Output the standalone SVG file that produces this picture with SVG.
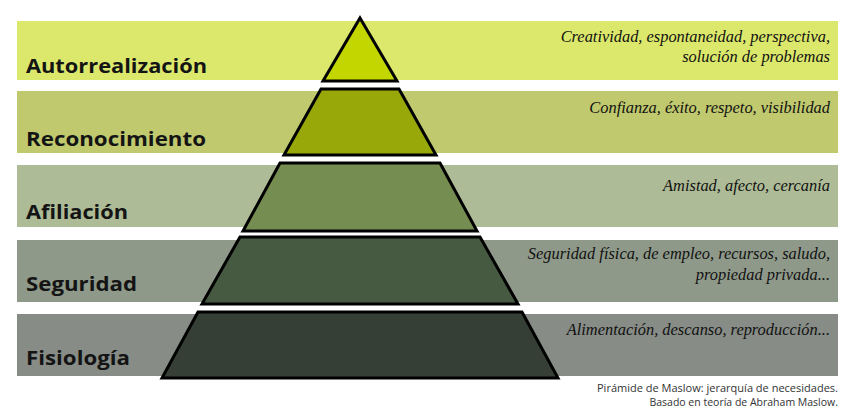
<svg xmlns="http://www.w3.org/2000/svg" width="854" height="418" viewBox="0 0 854 418">
<style>
.lbl{font-family:"Open Sans","DejaVu Sans",sans-serif;font-weight:bold;font-size:19px;fill:#141414}
.desc{font-family:"Liberation Serif","DejaVu Serif",serif;font-style:italic;font-size:16.4px;fill:#111;text-anchor:end}
.note{font-family:"Open Sans","Liberation Sans",sans-serif;font-size:10.5px;fill:#333;text-anchor:end}
.tier{stroke:#000;stroke-width:3;stroke-linejoin:miter}
</style>
<rect width="854" height="418" fill="#fff"/>
<g id="level-autorrealizacion">
<rect x="17" y="21" width="821" height="59" fill="#dce86c"/>
<polygon class="tier" points="360,18 397,81 323,81" fill="#c3d600"/>
<text class="lbl" x="26" y="73" textLength="181" lengthAdjust="spacingAndGlyphs">Autorrealización</text>
<text class="desc" x="830" y="42">Creatividad, espontaneidad, perspectiva,</text>
<text class="desc" x="830" y="62">solución de problemas</text>
</g>
<g id="level-reconocimiento">
<rect x="17" y="91" width="821" height="62" fill="#c0c96e"/>
<polygon class="tier" points="321,89 399,89 436,155 284,155" fill="#97a808"/>
<text class="lbl" x="26" y="146" textLength="180" lengthAdjust="spacingAndGlyphs">Reconocimiento</text>
<text class="desc" x="830" y="113">Confianza, éxito, respeto, visibilidad</text>
</g>
<g id="level-afiliacion">
<rect x="17" y="165" width="821" height="62" fill="#adbb96"/>
<polygon class="tier" points="280,163 440,163 477,231 243,231" fill="#758d50"/>
<text class="lbl" x="26" y="219" textLength="102" lengthAdjust="spacingAndGlyphs">Afiliación</text>
<text class="desc" x="830" y="191">Amistad, afecto, cercanía</text>
</g>
<g id="level-seguridad">
<rect x="17" y="240" width="821" height="62" fill="#8f998a"/>
<polygon class="tier" points="240,237 480,237 518,304 202,304" fill="#455a40"/>
<text class="lbl" x="26" y="291" textLength="111" lengthAdjust="spacingAndGlyphs">Seguridad</text>
<text class="desc" x="830" y="259">Seguridad física, de empleo, recursos, saludo,</text>
<text class="desc" x="830" y="280">propiedad privada...</text>
</g>
<g id="level-fisiologia">
<rect x="17" y="314" width="821" height="62" fill="#878c86"/>
<polygon class="tier" points="198,312 522,312 558,378 162,378" fill="#353f36"/>
<text class="lbl" x="26" y="365" textLength="104" lengthAdjust="spacingAndGlyphs">Fisiología</text>
<text class="desc" x="830" y="335">Alimentación, descanso, reproducción...</text>
</g>
<g id="connectors"/>
<g id="caption">
<text class="note" x="838" y="392" textLength="241" lengthAdjust="spacingAndGlyphs">Pirámide de Maslow: jerarquía de necesidades.</text>
<text class="note" x="838" y="406">Basado en teoría de Abraham Maslow.</text>
</g>
</svg>
